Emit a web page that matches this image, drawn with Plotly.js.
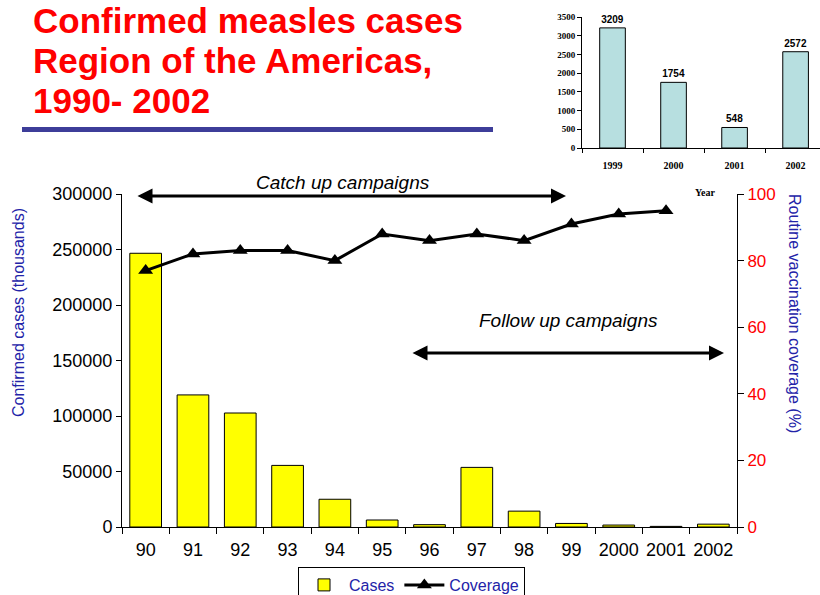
<!DOCTYPE html>
<html>
<head>
<meta charset="utf-8">
<script src="https://cdn.plot.ly/plotly-3.0.1.min.js"></script>
<style>html,body{margin:0;padding:0;background:#fff;overflow:hidden;}#chart{width:820px;height:595px;}</style>
</head>
<body>
<div id="chart"></div>
<script>
// ---- data ----
var years = ["90","91","92","93","94","95","96","97","98","99","2000","2001","2002"];
var cases = [246600, 119000, 102700, 55500, 25000, 6300, 2100, 53700, 14300, 3209, 1754, 548, 2572];
var coverageYears = ["90","91","92","93","94","95","96","97","98","99","2000","2001"];
var coverage = [77, 82, 83, 83, 80, 88, 86, 88, 86, 91, 94, 95];
var insetYears = ["1999","2000","2001","2002"];
var insetCases = [3209, 1754, 548, 2572];
var leftTicks = [0, 50000, 100000, 150000, 200000, 250000, 300000];
var rightTicks = [0, 20, 40, 60, 80, 100];
var insetTicks = [0, 500, 1000, 1500, 2000, 2500, 3000, 3500];

var W = 820, H = 595;
function px(x){ return x / W; }
function py(y){ return (H - y) / H; }

var SANS = "Liberation Sans, Arial, sans-serif";
var SERIF = "Liberation Serif, Times New Roman, serif";
var BLUE = "#2323a8";

var traces = [
  {
    type: "bar", name: "Cases", x: years, y: cases,
    xaxis: "x", yaxis: "y",
    marker: {color: "#ffff00", line: {color: "#000", width: 1}},
    width: 0.67, hoverinfo: "skip"
  },
  {
    type: "scatter", mode: "lines+markers", name: "Coverage",
    x: coverageYears, y: coverage, xaxis: "x", yaxis: "y2",
    line: {color: "#000", width: 3},
    marker: {symbol: "triangle-up", size: 13, color: "#000"},
    hoverinfo: "skip"
  },
  {
    type: "bar", name: "inset", x: insetYears, y: insetCases,
    xaxis: "x3", yaxis: "y3", showlegend: false,
    marker: {color: "#b7dfe0", line: {color: "#000", width: 1}},
    width: 0.42,
    text: insetCases.map(String), textposition: "outside", cliponaxis: false,
    textfont: {family: SANS, size: 10, color: "#000", weight: "bold"},
    hoverinfo: "skip"
  }
];

var layout = {
  width: W, height: H, autosize: false,
  margin: {l: 0, r: 0, t: 0, b: 0, autoexpand: false},
  paper_bgcolor: "#fff", plot_bgcolor: "rgba(0,0,0,0)",
  bargap: 0.33,
  showlegend: true,
  legend: {
    orientation: "h", x: px(298), y: py(567), xanchor: "left", yanchor: "top",
    bordercolor: "#000", borderwidth: 1, bgcolor: "#fff",
    font: {family: SANS, size: 16, color: BLUE},
    itemwidth: 40, tracegroupgap: 0
  },
  xaxis: {
    type: "category", categoryorder: "array", categoryarray: years,
    domain: [px(122), px(737)], range: [-0.5, 12.5], anchor: "y",
    showline: true, linecolor: "#000", linewidth: 1,
    ticks: "outside", tickson: "boundaries", ticklen: 6, tickcolor: "#000",
    showgrid: false, zeroline: false, tickangle: 0,
    tickfont: {family: SANS, size: 18, color: "#000"}, ticklabelstandoff: 6
  },
  yaxis: {
    domain: [py(527), py(194)], range: [0, 300000], anchor: "x",
    tickvals: leftTicks, ticktext: leftTicks.map(String),
    showline: true, linecolor: "#000", linewidth: 1,
    ticks: "outside", ticklen: 5, tickcolor: "#000",
    showgrid: false, zeroline: false,
    tickfont: {family: SANS, size: 18, color: "#000"}
  },
  yaxis2: {
    overlaying: "y", side: "right", anchor: "x", range: [0, 100],
    tickvals: rightTicks, ticktext: rightTicks.map(String),
    showline: true, linecolor: "#000", linewidth: 1,
    ticks: "outside", ticklen: 6, tickcolor: "#000",
    showgrid: false, zeroline: false,
    tickfont: {family: SANS, size: 17, color: "#ff0000"}
  },
  xaxis3: {
    type: "category", categoryorder: "array", categoryarray: insetYears,
    domain: [px(582), 1], range: [-0.5, 3.4], anchor: "y3",
    showline: true, linecolor: "#000", linewidth: 1,
    ticks: "outside", tickson: "boundaries", ticklen: 4, tickcolor: "#000",
    showgrid: false, zeroline: false, tickangle: 0,
    tickfont: {family: SERIF, size: 10, color: "#000", weight: "bold"}, ticklabelstandoff: 8
  },
  yaxis3: {
    domain: [py(148), py(17)], range: [0, 3500], anchor: "x3",
    tickvals: insetTicks, ticktext: insetTicks.map(String),
    showline: true, linecolor: "#000", linewidth: 1,
    ticks: "outside", ticklen: 4, tickcolor: "#000",
    showgrid: false, zeroline: false,
    tickfont: {family: SERIF, size: 9, color: "#000", weight: "bold"}
  },
  shapes: [
    {type: "rect", xref: "paper", yref: "paper",
     x0: px(22), x1: px(493), y0: py(132), y1: py(127),
     fillcolor: "#3d3d99", line: {width: 0}}
  ],
  annotations: [
    {text: "Confirmed measles cases", xref: "paper", yref: "paper", x: px(31), y: py(21),
     xanchor: "left", yanchor: "middle", showarrow: false,
     font: {family: SANS, size: 35, color: "#ff0000", weight: "bold"}},
    {text: "Region of the Americas,", xref: "paper", yref: "paper", x: px(31), y: py(61),
     xanchor: "left", yanchor: "middle", showarrow: false,
     font: {family: SANS, size: 35, color: "#ff0000", weight: "bold"}},
    {text: "1990- 2002", xref: "paper", yref: "paper", x: px(31), y: py(101),
     xanchor: "left", yanchor: "middle", showarrow: false,
     font: {family: SANS, size: 35, color: "#ff0000", weight: "bold"}},
    {text: "Confirmed cases (thousands)", xref: "paper", yref: "paper", x: px(18), y: py(313),
     xanchor: "center", yanchor: "middle", textangle: -90, showarrow: false,
     font: {family: SANS, size: 16, color: BLUE}},
    {text: "Routine vaccination coverage (%)", xref: "paper", yref: "paper", x: px(795), y: py(313),
     xanchor: "center", yanchor: "middle", textangle: 90, showarrow: false,
     font: {family: SANS, size: 16, color: BLUE}},
    {text: "Catch up campaigns", xref: "paper", yref: "paper", x: px(343), y: py(182),
     xanchor: "center", yanchor: "middle", showarrow: false,
     font: {family: SANS, size: 19, color: "#000", style: "italic"}},
    {text: "Follow up campaigns", xref: "paper", yref: "paper", x: px(568), y: py(320),
     xanchor: "center", yanchor: "middle", showarrow: false,
     font: {family: SANS, size: 19, color: "#000", style: "italic"}},
    {text: "", xref: "paper", yref: "paper", x: px(566), y: py(196),
     axref: "pixel", ayref: "pixel", ax: -(566 - 136), ay: 0,
     showarrow: true, arrowside: "end+start", arrowhead: 2, arrowsize: 1, arrowwidth: 3,
     arrowcolor: "#000", standoff: 0, startstandoff: 0},
    {text: "", xref: "paper", yref: "paper", x: px(724), y: py(353),
     axref: "pixel", ayref: "pixel", ax: -(724 - 411), ay: 0,
     showarrow: true, arrowside: "end+start", arrowhead: 2, arrowsize: 1, arrowwidth: 3,
     arrowcolor: "#000", standoff: 0, startstandoff: 0},
    {text: "Year", xref: "paper", yref: "paper", x: px(705), y: py(193),
     xanchor: "center", yanchor: "middle", showarrow: false,
     font: {family: SERIF, size: 10, color: "#000", weight: "bold"}}
  ]
};

Plotly.newPlot("chart", traces, layout, {displayModeBar: false, staticPlot: true});
</script>
</body>
</html>
